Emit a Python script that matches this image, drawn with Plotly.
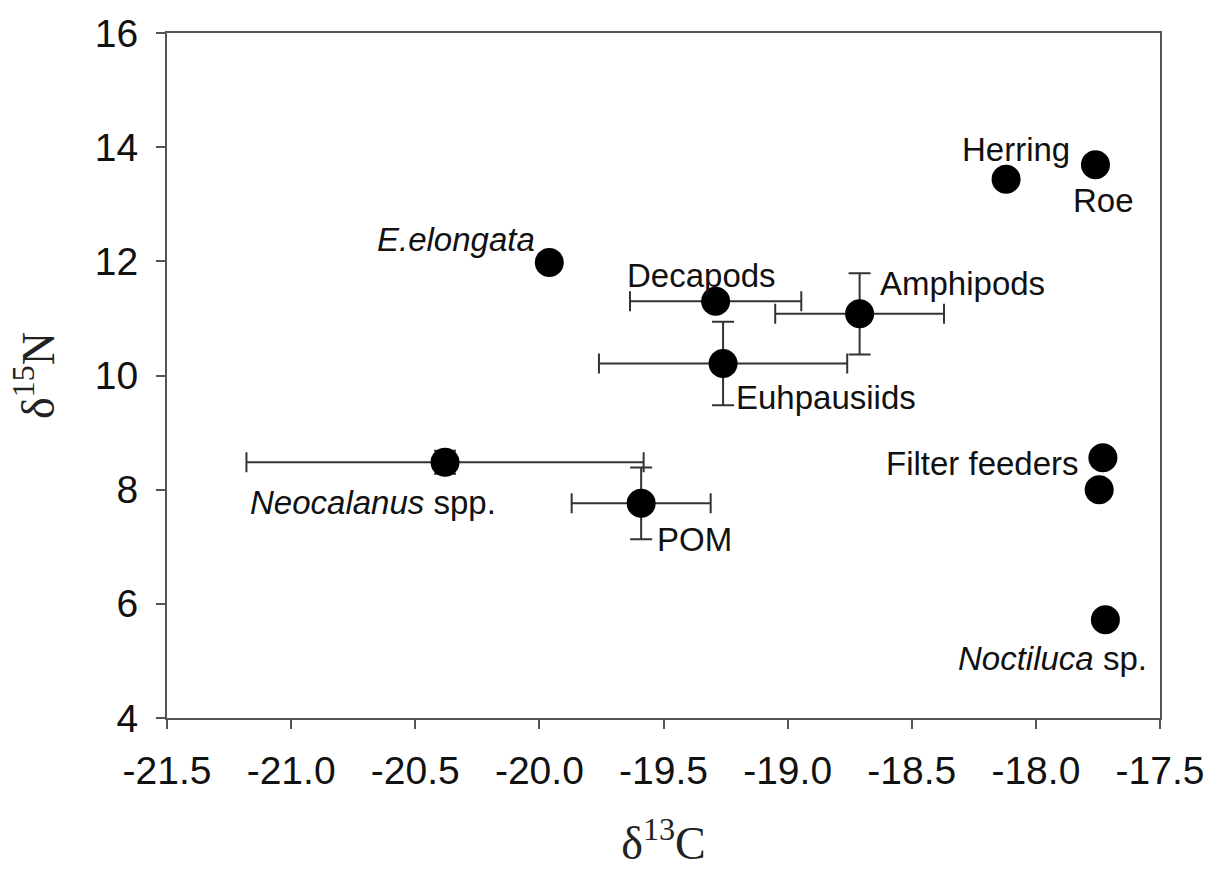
import plotly.graph_objects as go

# ---- data ----
names = ["Herring", "Roe", "<i>E.elongata</i>", "Decapods", "Amphipods", "Euhpausiids",
         "Filter feeders", "", "<i>Neocalanus</i> spp.", "POM", "<i>Noctiluca</i> sp."]
d13C = [-18.12, -17.76, -19.96, -19.29, -18.71, -19.26, -17.73, -17.745, -20.38, -19.59, -17.72]
d15N = [13.44, 13.69, 11.98, 11.30, 11.08, 10.21, 8.56, 8.00, 8.48, 7.76, 5.72]
xerr = [0, 0, 0, 0.345, 0.34, 0.50, 0, 0, 0.80, 0.28, 0]
yerr = [0, 0, 0, 0, 0.71, 0.73, 0, 0, 0.2, 0.63, 0]

x_ticks = [-21.5, -21.0, -20.5, -20.0, -19.5, -19.0, -18.5, -18.0, -17.5]
x_ticklabels = ["-21.5", "-21.0", "-20.5", "-20.0", "-19.5", "-19.0", "-18.5", "-18.0", "-17.5"]
y_ticks = [4, 6, 8, 10, 12, 14, 16]

# label placement (pixel offsets from each point)
label_pos = {
    "Herring": ("center", 10, 30),
    "Roe": ("center", 8, -36),
    "<i>E.elongata</i>": ("right", -12, 23),
    "Decapods": ("center", -14, 26),
    "Amphipods": ("left", 18, 30),
    "Euhpausiids": ("left", 11, -34),
    "Filter feeders": ("right", -22, -6),
    "<i>Neocalanus</i> spp.": ("center", -72, -40),
    "POM": ("left", 14, -36),
    "<i>Noctiluca</i> sp.": ("right", 44, -39),
}

ERR_COLOR = "#333333"
AX_COLOR = "#555555"
FONT = "Liberation Sans, Arial, sans-serif"
SERIF = "Liberation Serif, Times New Roman, serif"

fig = go.Figure()
fig.add_trace(go.Scatter(
    x=d13C, y=d15N, mode="markers",
    marker=dict(size=29, color="black"),
    error_x=dict(type="data", array=xerr, color=ERR_COLOR, thickness=2, width=10),
    error_y=dict(type="data", array=yerr, color=ERR_COLOR, thickness=2, width=11),
    showlegend=False, hoverinfo="skip",
))

for n, x, y in zip(names, d13C, d15N):
    if not n:
        continue
    anchor, dx, dy = label_pos[n]
    fig.add_annotation(x=x, y=y, text=n, showarrow=False, xanchor=anchor, yanchor="middle",
                       xshift=dx, yshift=dy,
                       font=dict(family=FONT, size=33, color="#111111"))

fig.update_layout(
    width=1218, height=888,
    margin=dict(l=167, r=58, t=28, b=170),
    paper_bgcolor="white", plot_bgcolor="white",
    font=dict(family=FONT, color="#111111"),
)
fig.update_xaxes(
    range=[-21.5, -17.5], tickvals=x_ticks, ticktext=x_ticklabels,
    showgrid=False, zeroline=False,
    showline=True, linecolor=AX_COLOR, linewidth=2, mirror=True,
    ticks="outside", ticklen=9, tickwidth=2, tickcolor=AX_COLOR,
    ticklabelstandoff=8,
    tickfont=dict(family=FONT, size=39, color="#111111"),
    title=dict(text="δ<sup>13</sup>C", standoff=36,
               font=dict(family=SERIF, size=46, color="#222222")),
)
fig.update_yaxes(
    range=[4, 16], tickvals=y_ticks,
    showgrid=False, zeroline=False,
    showline=True, linecolor=AX_COLOR, linewidth=2, mirror=True,
    ticks="outside", ticklen=9, tickwidth=2, tickcolor=AX_COLOR,
    ticklabelstandoff=10,
    tickfont=dict(family=FONT, size=39, color="#111111"),
    title=dict(text="δ<sup>15</sup>N", standoff=26,
               font=dict(family=SERIF, size=46, color="#222222")),
)

fig.write_html("out.html")
